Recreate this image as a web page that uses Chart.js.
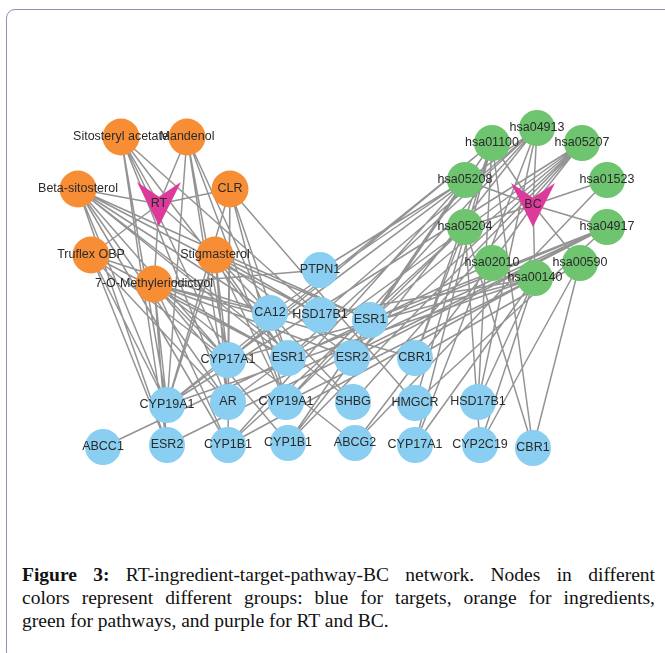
<!DOCTYPE html>
<html>
<head>
<meta charset="utf-8">
<script src="https://cdn.jsdelivr.net/npm/chart.js@4/dist/chart.umd.min.js"></script>
<style>
  html, body { margin: 0; padding: 0; background: #fff; }
  body { width: 665px; height: 653px; position: relative; overflow: hidden; }
  #frame {
    position: absolute; left: 6px; top: 9px; width: 668px; height: 652px;
    border: 1.5px solid #8f8fb8; border-radius: 9px; box-sizing: border-box;
  }
  #wrap { position: absolute; left: 0; top: 0; width: 665px; height: 540px; }
  #caption {
    position: absolute; left: 22px; top: 563px; width: 633px;
    font-family: "Liberation Serif", "Times New Roman", serif;
    font-size: 19.5px; line-height: 23px; color: #111;
  }
  #caption .ln { display: block; text-align: justify; text-align-last: justify; white-space: nowrap; }
  #caption .ln.last { text-align: left; text-align-last: left; }
</style>
</head>
<body>
<div id="frame"></div>
<div id="wrap"><canvas id="net"></canvas></div>
<div id="caption"><span class="ln"><b>Figure 3:</b> RT-ingredient-target-pathway-BC network. Nodes in different</span><span class="ln">colors represent different groups: blue for targets, orange for ingredients,</span><span class="ln last">green for pathways, and purple for RT and BC.</span></div>
<script>
// ---- Network nodes ----
const nodeIds = [
  'RT', 'BC',
  'SA', 'MA', 'BS', 'CLR', 'TO', 'ST', 'MO',
  'PTPN1', 'CA12', 'HSD17B1a', 'ESR1a', 'CYP17A1a', 'ESR1b', 'ESR2a', 'CBR1a',
  'CYP19A1a', 'ARa', 'CYP19A1b', 'SHBG', 'HMGCR', 'HSD17B1b',
  'ABCC1', 'ESR2b', 'CYP1B1a', 'CYP1B1b', 'ABCG2', 'CYP17A1b', 'CYP2C19', 'CBR1b',
  'h04913', 'h01100', 'h05207', 'h05208', 'h01523', 'h05204', 'h04917', 'h02010', 'h00590', 'h00140'
];
const nodeLabels = [
  'RT', 'BC',
  'Sitosteryl acetate', 'Mandenol', 'Beta-sitosterol', 'CLR', 'Truflex OBP', 'Stigmasterol', '7-O-Methyleriodictyol',
  'PTPN1', 'CA12', 'HSD17B1', 'ESR1', 'CYP17A1', 'ESR1', 'ESR2', 'CBR1',
  'CYP19A1', 'AR', 'CYP19A1', 'SHBG', 'HMGCR', 'HSD17B1',
  'ABCC1', 'ESR2', 'CYP1B1', 'CYP1B1', 'ABCG2', 'CYP17A1', 'CYP2C19', 'CBR1',
  'hsa04913', 'hsa01100', 'hsa05207', 'hsa05208', 'hsa01523', 'hsa05204', 'hsa04917', 'hsa02010', 'hsa00590', 'hsa00140'
];
const nodeGroups = [
  'disease', 'disease',
  'ingredient', 'ingredient', 'ingredient', 'ingredient', 'ingredient', 'ingredient', 'ingredient',
  'target', 'target', 'target', 'target', 'target', 'target', 'target', 'target',
  'target', 'target', 'target', 'target', 'target', 'target',
  'target', 'target', 'target', 'target', 'target', 'target', 'target', 'target',
  'pathway', 'pathway', 'pathway', 'pathway', 'pathway', 'pathway', 'pathway', 'pathway', 'pathway', 'pathway'
];
// layout coordinates of each node
const nodeX = [
  159, 533,
  121, 187, 78, 230, 91, 215, 154,
  320, 270, 320, 370, 228, 288, 352, 415,
  167, 228, 286, 353, 415, 478,
  103, 167, 228, 288, 355, 415, 480, 533,
  537, 492, 582, 465, 607, 465, 607, 492, 580, 535
];
const nodeY = [
  204, 205,
  137, 137, 189, 189, 255, 255, 284,
  270, 313, 315, 320, 360, 358, 358, 358,
  405, 402, 402, 402, 403, 402,
  447, 445, 445, 443, 443, 445, 445, 448,
  128, 143, 143, 180, 180, 227, 227, 263, 263, 278
];

// ---- Network edges ----
const edges = [
  // RT - ingredients
  ['RT','SA'], ['RT','MA'], ['RT','BS'], ['RT','CLR'], ['RT','TO'], ['RT','ST'], ['RT','MO'],
  // BC - pathways
  ['BC','h04913'], ['BC','h01100'], ['BC','h05207'], ['BC','h05208'], ['BC','h01523'],
  ['BC','h05204'], ['BC','h04917'], ['BC','h02010'], ['BC','h00590'], ['BC','h00140'],
  // ingredients - targets
  ['SA','CYP19A1a'], ['SA','ESR2b'], ['SA','ARa'], ['SA','CYP17A1a'], ['SA','ESR1b'], ['SA','HSD17B1a'],
  ['MA','CYP19A1a'], ['MA','ARa'], ['MA','CYP17A1a'], ['MA','ESR1b'], ['MA','CYP19A1b'],
  ['BS','CYP19A1a'], ['BS','ESR2b'], ['BS','ARa'], ['BS','CYP17A1a'], ['BS','ESR1b'], ['BS','CA12'],
  ['BS','HSD17B1a'], ['BS','ESR1a'], ['BS','SHBG'], ['BS','CYP1B1a'],
  ['CLR','CYP19A1a'], ['CLR','ARa'], ['CLR','CYP17A1a'], ['CLR','ESR1b'], ['CLR','CYP19A1b'], ['CLR','HMGCR'], ['CLR','CYP1B1a'],
  ['TO','CYP19A1a'], ['TO','ESR2b'], ['TO','ARa'], ['TO','CYP17A1a'], ['TO','ESR1b'], ['TO','CA12'],
  ['ST','CYP19A1a'], ['ST','ARa'], ['ST','CYP17A1a'], ['ST','ESR1b'], ['ST','HSD17B1a'], ['ST','ESR1a'],
  ['ST','ESR2a'], ['ST','CYP19A1b'], ['ST','SHBG'],
  ['MO','CYP19A1a'], ['MO','ESR2b'], ['MO','CYP1B1a'], ['MO','CYP17A1a'], ['MO','ESR1b'], ['MO','ESR2a'],
  ['MO','CYP1B1b'], ['MO','CA12'], ['MO','ABCG2'], ['MO','PTPN1'], ['MO','CBR1a'],
  // targets - pathways
  ['CYP19A1a','h04913'], ['CYP19A1a','h00140'], ['CYP19A1a','h01100'], ['CYP19A1a','h05207'],
  ['CYP19A1b','h04913'], ['CYP19A1b','h00140'], ['CYP19A1b','h05204'],
  ['ESR1a','h04917'], ['ESR1a','h05207'], ['ESR1a','h05208'],
  ['ESR1b','h04917'], ['ESR1b','h05207'], ['ESR1b','h04913'],
  ['ESR2a','h04917'], ['ESR2a','h05207'],
  ['ESR2b','h04917'],
  ['ARa','h05207'], ['ARa','h04917'],
  ['CYP17A1a','h04913'], ['CYP17A1a','h00140'], ['CYP17A1a','h01100'],
  ['CYP17A1b','h04913'], ['CYP17A1b','h00140'], ['CYP17A1b','h01100'],
  ['CYP1B1a','h05204'], ['CYP1B1a','h00140'], ['CYP1B1a','h05208'],
  ['CYP1B1b','h04913'], ['CYP1B1b','h01100'], ['CYP1B1b','h05207'],
  ['HSD17B1a','h04913'], ['HSD17B1a','h00140'],
  ['HSD17B1b','h00140'], ['HSD17B1b','h01100'], ['HSD17B1b','h04913'],
  ['CBR1a','h00590'], ['CBR1a','h05204'], ['CBR1a','h01100'],
  ['CBR1b','h00590'], ['CBR1b','h01100'], ['CBR1b','h05204'],
  ['HMGCR','h01100'], ['HMGCR','h04917'],
  ['ABCC1','h02010'],
  ['ABCG2','h02010'], ['ABCG2','h01523'],
  ['CYP2C19','h00590'], ['CYP2C19','h05204'], ['CYP2C19','h00140'],
  ['SHBG','h05207'],
  ['CA12','h05208'],
  ['PTPN1','h05208']
];

const groupColors = {
  target: '#8ACFF1',
  ingredient: '#F78E36',
  pathway: '#6FC46F',
  disease: '#DC3B9C'
};

// vee-shaped marker for RT and BC
function makeVee(size, color) {
  const c = document.createElement('canvas');
  c.width = size; c.height = size;
  const g = c.getContext('2d');
  g.fillStyle = color;
  g.beginPath();
  g.moveTo(0, 0);
  g.lineTo(size / 2, size / 3);
  g.lineTo(size, 0);
  g.lineTo(size / 2, size);
  g.closePath();
  g.fill();
  return c;
}
const veeMarker = makeVee(44, groupColors.disease);

const idx = {};
nodeIds.forEach((id, i) => { idx[id] = i; });

// edge segments separated by gaps
const edgePoints = [];
edges.forEach(([a, b]) => {
  const i = idx[a], j = idx[b];
  edgePoints.push({ x: nodeX[i], y: nodeY[i] });
  edgePoints.push({ x: nodeX[j], y: nodeY[j] });
  edgePoints.push({ x: (nodeX[i] + nodeX[j]) / 2, y: null });
});

function groupPoints(group) {
  const pts = [];
  nodeIds.forEach((id, i) => {
    if (nodeGroups[i] === group) pts.push({ x: nodeX[i], y: nodeY[i] });
  });
  return pts;
}

const nodeLabelPlugin = {
  id: 'nodeLabels',
  afterDatasetsDraw(chart) {
    const ctx = chart.ctx;
    const xs = chart.scales.x, ys = chart.scales.y;
    ctx.save();
    ctx.font = '12.5px "Liberation Sans", Arial, sans-serif';
    ctx.fillStyle = '#2a2a2a';
    ctx.textAlign = 'center';
    ctx.textBaseline = 'middle';
    nodeLabels.forEach((lab, i) => {
      ctx.fillText(lab, xs.getPixelForValue(nodeX[i]), ys.getPixelForValue(nodeY[i]));
    });
    ctx.restore();
  }
};

new Chart(document.getElementById('net'), {
  type: 'scatter',
  data: {
    datasets: [
      {
        label: 'edges',
        data: edgePoints,
        showLine: true,
        spanGaps: false,
        borderColor: 'rgba(135,135,135,0.9)',
        borderWidth: 1.5,
        pointRadius: 0,
        order: 10
      },
      {
        label: 'targets',
        data: groupPoints('target'),
        pointRadius: 18,
        pointBackgroundColor: groupColors.target,
        pointBorderWidth: 0,
        order: 1
      },
      {
        label: 'ingredients',
        data: groupPoints('ingredient'),
        pointRadius: 18.5,
        pointBackgroundColor: groupColors.ingredient,
        pointBorderWidth: 0,
        order: 1
      },
      {
        label: 'pathways',
        data: groupPoints('pathway'),
        pointRadius: 18,
        pointBackgroundColor: groupColors.pathway,
        pointBorderWidth: 0,
        order: 1
      },
      {
        label: 'RT / BC',
        data: groupPoints('disease'),
        pointStyle: veeMarker,
        pointRadius: 22,
        order: 1
      }
    ]
  },
  options: {
    responsive: true,
    maintainAspectRatio: false,
    animation: false,
    events: [],
    layout: { padding: 0, autoPadding: false },
    plugins: { legend: { display: false }, tooltip: { enabled: false } },
    scales: {
      x: { type: 'linear', min: 0, max: 665, display: false },
      y: { type: 'linear', min: 0, max: 540, reverse: true, display: false }
    }
  },
  plugins: [nodeLabelPlugin]
});
</script>
</body>
</html>
